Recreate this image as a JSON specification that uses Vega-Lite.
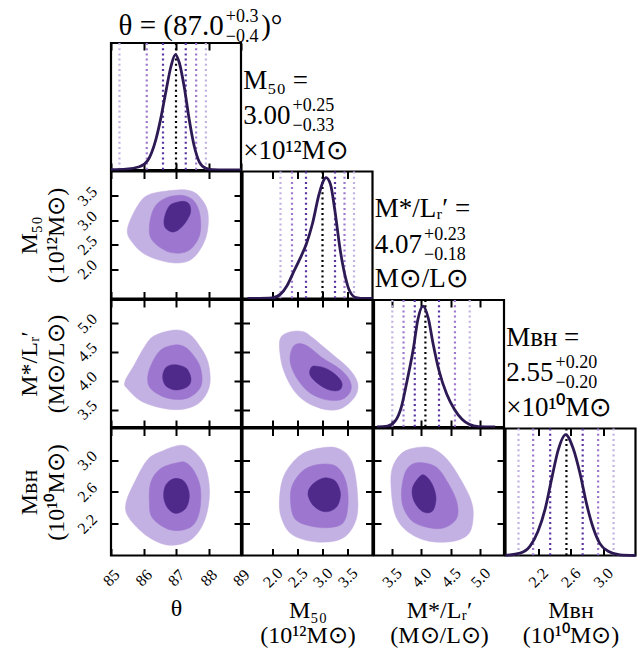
{
"$schema":"https://vega.github.io/schema/vega-lite/v6.json",
"padding":{"left":16,"top":7,"right":5,"bottom":5},
"background":"white",
"config":{
 "font":"Liberation Serif",
 "view":{"stroke":"black","strokeWidth":2.2},
 "axis":{"domain":false,"grid":false,"ticks":true,"tickColor":"black","tickWidth":2,"tickSize":-7,"labelFontSize":16,"labelColor":"black","labelAngle":-45,"labelAlign":"center","labelBaseline":"middle","labelOverlap":false,"labelFlush":false,"labelBound":false,"titleFontSize":24,"titleLineHeight":25,"titleFontWeight":"normal","titleColor":"black"},
 "axisBottom":{"labelPadding":29,"titlePadding":8},
 "axisLeft":{"labelPadding":31,"titlePadding":6,"titleLineHeight":27},
 "text":{"color":"black"}
},
"datasets":{
 "kde":[
  {"v":"theta","x":85.0,"d":0.004},{"v":"theta","x":85.46,"d":0.008},{"v":"theta","x":85.87,"d":0.028},{"v":"theta","x":86.13,"d":0.083},{"v":"theta","x":86.38,"d":0.264},{"v":"theta","x":86.54,"d":0.458},{"v":"theta","x":86.69,"d":0.681},{"v":"theta","x":86.85,"d":0.903},{"v":"theta","x":86.98,"d":1.0},{"v":"theta","x":87.1,"d":0.931},{"v":"theta","x":87.26,"d":0.708},{"v":"theta","x":87.41,"d":0.431},{"v":"theta","x":87.56,"d":0.208},{"v":"theta","x":87.72,"d":0.069},{"v":"theta","x":87.92,"d":0.014},{"v":"theta","x":88.13,"d":0.002},{"v":"theta","x":88.5,"d":0.0},{"v":"theta","x":89.0,"d":0.0},
  {"v":"m50","x":1.5,"d":0.0},{"v":"m50","x":2.0,"d":0.006},{"v":"m50","x":2.16,"d":0.036},{"v":"m50","x":2.29,"d":0.106},{"v":"m50","x":2.42,"d":0.218},{"v":"m50","x":2.55,"d":0.33},{"v":"m50","x":2.68,"d":0.455},{"v":"m50","x":2.8,"d":0.62},{"v":"m50","x":2.93,"d":0.86},{"v":"m50","x":3.02,"d":0.975},{"v":"m50","x":3.07,"d":1.0},{"v":"m50","x":3.16,"d":0.944},{"v":"m50","x":3.25,"d":0.72},{"v":"m50","x":3.35,"d":0.413},{"v":"m50","x":3.45,"d":0.19},{"v":"m50","x":3.54,"d":0.064},{"v":"m50","x":3.67,"d":0.008},{"v":"m50","x":3.85,"d":0.0},{"v":"m50","x":4.0,"d":0.0},
  {"v":"ml","x":3.25,"d":0.0},{"v":"ml","x":3.43,"d":0.008},{"v":"ml","x":3.56,"d":0.05},{"v":"ml","x":3.66,"d":0.16},{"v":"ml","x":3.76,"d":0.383},{"v":"ml","x":3.87,"d":0.66},{"v":"ml","x":3.94,"d":0.883},{"v":"ml","x":4.03,"d":1.0},{"v":"ml","x":4.12,"d":0.897},{"v":"ml","x":4.2,"d":0.689},{"v":"ml","x":4.3,"d":0.467},{"v":"ml","x":4.43,"d":0.272},{"v":"ml","x":4.56,"d":0.147},{"v":"ml","x":4.69,"d":0.064},{"v":"ml","x":4.81,"d":0.022},{"v":"ml","x":4.97,"d":0.003},{"v":"ml","x":5.25,"d":0.0},
  {"v":"bh","x":1.8,"d":0.002},{"v":"bh","x":1.98,"d":0.02},{"v":"bh","x":2.1,"d":0.075},{"v":"bh","x":2.2,"d":0.2},{"v":"bh","x":2.29,"d":0.39},{"v":"bh","x":2.37,"d":0.64},{"v":"bh","x":2.45,"d":0.876},{"v":"bh","x":2.54,"d":1.0},{"v":"bh","x":2.63,"d":0.89},{"v":"bh","x":2.72,"d":0.67},{"v":"bh","x":2.8,"d":0.42},{"v":"bh","x":2.88,"d":0.227},{"v":"bh","x":2.96,"d":0.1},{"v":"bh","x":3.07,"d":0.033},{"v":"bh","x":3.21,"d":0.005},{"v":"bh","x":3.4,"d":0.0}
 ],
 "lines":[
  {"v":"theta","x":85.26,"s":"3"},{"v":"theta","x":86.1,"s":"2"},{"v":"theta","x":86.6,"s":"1"},{"v":"theta","x":87.0,"s":"m"},{"v":"theta","x":87.3,"s":"1"},{"v":"theta","x":87.62,"s":"2"},{"v":"theta","x":87.92,"s":"3"},
  {"v":"m50","x":2.16,"s":"3"},{"v":"m50","x":2.39,"s":"2"},{"v":"m50","x":2.67,"s":"1"},{"v":"m50","x":3.0,"s":"m"},{"v":"m50","x":3.25,"s":"1"},{"v":"m50","x":3.44,"s":"2"},{"v":"m50","x":3.63,"s":"3"},
  {"v":"ml","x":3.51,"s":"3"},{"v":"ml","x":3.7,"s":"2"},{"v":"ml","x":3.89,"s":"1"},{"v":"ml","x":4.07,"s":"m"},{"v":"ml","x":4.3,"s":"1"},{"v":"ml","x":4.57,"s":"2"},{"v":"ml","x":4.82,"s":"3"},
  {"v":"bh","x":1.96,"s":"3"},{"v":"bh","x":2.14,"s":"2"},{"v":"bh","x":2.35,"s":"1"},{"v":"bh","x":2.55,"s":"m"},{"v":"bh","x":2.75,"s":"1"},{"v":"bh","x":2.94,"s":"2"},{"v":"bh","x":3.13,"s":"3"}
 ],
 "ann":[
  {"p":"theta","val":"θ = (87.0","sup":"+0.3","sub":"−0.4","unit":")°"},
  {"p":"m50","head":"M₅₀ =","val":"3.00","sup":"+0.25","sub":"−0.33","unit":"×10¹²M⊙"},
  {"p":"ml","head":"M*/Lᵣ′ =","val":"4.07","sup":"+0.23","sub":"−0.18","unit":"M⊙/L⊙"},
  {"p":"bh","head":"Mʙʜ =","val":"2.55","sup":"+0.20","sub":"−0.20","unit":"×10¹⁰M⊙"}
 ],
 "cont":[
  {"p":"t_m50","l":1,"i":0,"x":87.0,"y":3.62},{"p":"t_m50","l":1,"i":1,"x":86.18,"y":3.53},{"p":"t_m50","l":1,"i":2,"x":85.82,"y":3.3},{"p":"t_m50","l":1,"i":3,"x":85.51,"y":2.84},{"p":"t_m50","l":1,"i":4,"x":85.62,"y":2.58},{"p":"t_m50","l":1,"i":5,"x":86.08,"y":2.29},{"p":"t_m50","l":1,"i":6,"x":86.9,"y":2.13},{"p":"t_m50","l":1,"i":7,"x":87.51,"y":2.22},{"p":"t_m50","l":1,"i":8,"x":87.92,"y":2.65},{"p":"t_m50","l":1,"i":9,"x":87.98,"y":3.17},{"p":"t_m50","l":1,"i":10,"x":87.72,"y":3.49},{"p":"t_m50","l":1,"i":11,"x":87.41,"y":3.61},
  {"p":"t_m50","l":2,"i":0,"x":87.21,"y":3.51},{"p":"t_m50","l":2,"i":1,"x":86.69,"y":3.46},{"p":"t_m50","l":2,"i":2,"x":86.33,"y":3.26},{"p":"t_m50","l":2,"i":3,"x":86.18,"y":2.87},{"p":"t_m50","l":2,"i":4,"x":86.28,"y":2.58},{"p":"t_m50","l":2,"i":5,"x":86.79,"y":2.35},{"p":"t_m50","l":2,"i":6,"x":87.36,"y":2.37},{"p":"t_m50","l":2,"i":7,"x":87.72,"y":2.68},{"p":"t_m50","l":2,"i":8,"x":87.74,"y":3.1},{"p":"t_m50","l":2,"i":9,"x":87.56,"y":3.39},
  {"p":"t_m50","l":3,"i":0,"x":87.1,"y":3.38},{"p":"t_m50","l":3,"i":1,"x":86.8,"y":3.3},{"p":"t_m50","l":3,"i":2,"x":86.64,"y":3.04},{"p":"t_m50","l":3,"i":3,"x":86.67,"y":2.85},{"p":"t_m50","l":3,"i":4,"x":86.92,"y":2.76},{"p":"t_m50","l":3,"i":5,"x":87.2,"y":2.88},{"p":"t_m50","l":3,"i":6,"x":87.43,"y":3.12},{"p":"t_m50","l":3,"i":7,"x":87.43,"y":3.3},{"p":"t_m50","l":3,"i":8,"x":87.3,"y":3.38},
  {"p":"t_ml","l":1,"i":0,"x":86.95,"y":4.88},{"p":"t_ml","l":1,"i":1,"x":86.33,"y":4.78},{"p":"t_ml","l":1,"i":2,"x":86.03,"y":4.59},{"p":"t_ml","l":1,"i":3,"x":85.72,"y":4.28},{"p":"t_ml","l":1,"i":4,"x":85.43,"y":3.99},{"p":"t_ml","l":1,"i":5,"x":85.51,"y":3.86},{"p":"t_ml","l":1,"i":6,"x":86.03,"y":3.62},{"p":"t_ml","l":1,"i":7,"x":86.95,"y":3.5},{"p":"t_ml","l":1,"i":8,"x":87.67,"y":3.6},{"p":"t_ml","l":1,"i":9,"x":88.03,"y":3.91},{"p":"t_ml","l":1,"i":10,"x":87.98,"y":4.33},{"p":"t_ml","l":1,"i":11,"x":87.67,"y":4.65},{"p":"t_ml","l":1,"i":12,"x":87.36,"y":4.83},
  {"p":"t_ml","l":2,"i":0,"x":86.95,"y":4.62},{"p":"t_ml","l":2,"i":1,"x":86.54,"y":4.54},{"p":"t_ml","l":2,"i":2,"x":86.28,"y":4.33},{"p":"t_ml","l":2,"i":3,"x":86.13,"y":4.07},{"p":"t_ml","l":2,"i":4,"x":86.23,"y":3.86},{"p":"t_ml","l":2,"i":5,"x":86.74,"y":3.7},{"p":"t_ml","l":2,"i":6,"x":87.36,"y":3.7},{"p":"t_ml","l":2,"i":7,"x":87.77,"y":3.91},{"p":"t_ml","l":2,"i":8,"x":87.75,"y":4.23},{"p":"t_ml","l":2,"i":9,"x":87.51,"y":4.46},{"p":"t_ml","l":2,"i":10,"x":87.26,"y":4.59},
  {"p":"t_ml","l":3,"i":0,"x":86.95,"y":4.28},{"p":"t_ml","l":3,"i":1,"x":86.69,"y":4.23},{"p":"t_ml","l":3,"i":2,"x":86.59,"y":4.07},{"p":"t_ml","l":3,"i":3,"x":86.69,"y":3.91},{"p":"t_ml","l":3,"i":4,"x":87.0,"y":3.84},{"p":"t_ml","l":3,"i":5,"x":87.36,"y":3.9},{"p":"t_ml","l":3,"i":6,"x":87.46,"y":4.04},{"p":"t_ml","l":3,"i":7,"x":87.31,"y":4.22},
  {"p":"t_bh","l":1,"i":0,"x":87.15,"y":3.19},{"p":"t_bh","l":1,"i":1,"x":86.54,"y":3.11},{"p":"t_bh","l":1,"i":2,"x":86.13,"y":3.01},{"p":"t_bh","l":1,"i":3,"x":85.77,"y":2.76},{"p":"t_bh","l":1,"i":4,"x":85.46,"y":2.46},{"p":"t_bh","l":1,"i":5,"x":85.56,"y":2.27},{"p":"t_bh","l":1,"i":6,"x":86.13,"y":2.04},{"p":"t_bh","l":1,"i":7,"x":86.79,"y":1.93},{"p":"t_bh","l":1,"i":8,"x":87.46,"y":2.0},{"p":"t_bh","l":1,"i":9,"x":87.87,"y":2.23},{"p":"t_bh","l":1,"i":10,"x":88.03,"y":2.57},{"p":"t_bh","l":1,"i":11,"x":87.92,"y":2.9},{"p":"t_bh","l":1,"i":12,"x":87.56,"y":3.11},
  {"p":"t_bh","l":2,"i":0,"x":87.05,"y":2.97},{"p":"t_bh","l":2,"i":1,"x":86.54,"y":2.9},{"p":"t_bh","l":2,"i":2,"x":86.23,"y":2.73},{"p":"t_bh","l":2,"i":3,"x":86.18,"y":2.48},{"p":"t_bh","l":2,"i":4,"x":86.28,"y":2.27},{"p":"t_bh","l":2,"i":5,"x":86.85,"y":2.12},{"p":"t_bh","l":2,"i":6,"x":87.46,"y":2.16},{"p":"t_bh","l":2,"i":7,"x":87.72,"y":2.35},{"p":"t_bh","l":2,"i":8,"x":87.75,"y":2.65},{"p":"t_bh","l":2,"i":9,"x":87.56,"y":2.86},{"p":"t_bh","l":2,"i":10,"x":87.31,"y":2.97},
  {"p":"t_bh","l":3,"i":0,"x":86.95,"y":2.77},{"p":"t_bh","l":3,"i":1,"x":86.69,"y":2.69},{"p":"t_bh","l":3,"i":2,"x":86.62,"y":2.54},{"p":"t_bh","l":3,"i":3,"x":86.74,"y":2.4},{"p":"t_bh","l":3,"i":4,"x":87.0,"y":2.33},{"p":"t_bh","l":3,"i":5,"x":87.31,"y":2.4},{"p":"t_bh","l":3,"i":6,"x":87.41,"y":2.57},{"p":"t_bh","l":3,"i":7,"x":87.26,"y":2.73},
  {"p":"m50_ml","l":1,"i":0,"x":2.36,"y":4.85},{"p":"m50_ml","l":1,"i":1,"x":2.16,"y":4.74},{"p":"m50_ml","l":1,"i":2,"x":2.15,"y":4.47},{"p":"m50_ml","l":1,"i":3,"x":2.23,"y":4.16},{"p":"m50_ml","l":1,"i":4,"x":2.42,"y":3.84},{"p":"m50_ml","l":1,"i":5,"x":2.68,"y":3.63},{"p":"m50_ml","l":1,"i":6,"x":3.07,"y":3.5},{"p":"m50_ml","l":1,"i":7,"x":3.4,"y":3.53},{"p":"m50_ml","l":1,"i":8,"x":3.66,"y":3.74},{"p":"m50_ml","l":1,"i":9,"x":3.7,"y":3.97},{"p":"m50_ml","l":1,"i":10,"x":3.53,"y":4.21},{"p":"m50_ml","l":1,"i":11,"x":3.21,"y":4.45},{"p":"m50_ml","l":1,"i":12,"x":2.81,"y":4.74},{"p":"m50_ml","l":1,"i":13,"x":2.62,"y":4.85},
  {"p":"m50_ml","l":2,"i":0,"x":2.46,"y":4.63},{"p":"m50_ml","l":2,"i":1,"x":2.36,"y":4.47},{"p":"m50_ml","l":2,"i":2,"x":2.37,"y":4.26},{"p":"m50_ml","l":2,"i":3,"x":2.52,"y":4.0},{"p":"m50_ml","l":2,"i":4,"x":2.75,"y":3.79},{"p":"m50_ml","l":2,"i":5,"x":3.08,"y":3.67},{"p":"m50_ml","l":2,"i":6,"x":3.4,"y":3.68},{"p":"m50_ml","l":2,"i":7,"x":3.57,"y":3.84},{"p":"m50_ml","l":2,"i":8,"x":3.53,"y":4.03},{"p":"m50_ml","l":2,"i":9,"x":3.34,"y":4.21},{"p":"m50_ml","l":2,"i":10,"x":3.01,"y":4.39},{"p":"m50_ml","l":2,"i":11,"x":2.68,"y":4.61},
  {"p":"m50_ml","l":3,"i":0,"x":2.78,"y":4.24},{"p":"m50_ml","l":3,"i":1,"x":2.75,"y":4.1},{"p":"m50_ml","l":3,"i":2,"x":2.91,"y":3.95},{"p":"m50_ml","l":3,"i":3,"x":3.14,"y":3.84},{"p":"m50_ml","l":3,"i":4,"x":3.34,"y":3.84},{"p":"m50_ml","l":3,"i":5,"x":3.39,"y":3.96},{"p":"m50_ml","l":3,"i":6,"x":3.27,"y":4.1},{"p":"m50_ml","l":3,"i":7,"x":3.08,"y":4.21},{"p":"m50_ml","l":3,"i":8,"x":2.91,"y":4.25},
  {"p":"m50_bh","l":1,"i":0,"x":3.02,"y":3.16},{"p":"m50_bh","l":1,"i":1,"x":2.57,"y":3.07},{"p":"m50_bh","l":1,"i":2,"x":2.24,"y":2.82},{"p":"m50_bh","l":1,"i":3,"x":2.14,"y":2.52},{"p":"m50_bh","l":1,"i":4,"x":2.18,"y":2.27},{"p":"m50_bh","l":1,"i":5,"x":2.4,"y":2.06},{"p":"m50_bh","l":1,"i":6,"x":2.89,"y":1.97},{"p":"m50_bh","l":1,"i":7,"x":3.41,"y":2.02},{"p":"m50_bh","l":1,"i":8,"x":3.68,"y":2.27},{"p":"m50_bh","l":1,"i":9,"x":3.69,"y":2.65},{"p":"m50_bh","l":1,"i":10,"x":3.58,"y":2.99},{"p":"m50_bh","l":1,"i":11,"x":3.35,"y":3.14},
  {"p":"m50_bh","l":2,"i":0,"x":2.96,"y":2.95},{"p":"m50_bh","l":2,"i":1,"x":2.63,"y":2.88},{"p":"m50_bh","l":2,"i":2,"x":2.4,"y":2.69},{"p":"m50_bh","l":2,"i":3,"x":2.36,"y":2.48},{"p":"m50_bh","l":2,"i":4,"x":2.44,"y":2.27},{"p":"m50_bh","l":2,"i":5,"x":2.7,"y":2.18},{"p":"m50_bh","l":2,"i":6,"x":3.09,"y":2.15},{"p":"m50_bh","l":2,"i":7,"x":3.41,"y":2.21},{"p":"m50_bh","l":2,"i":8,"x":3.51,"y":2.44},{"p":"m50_bh","l":2,"i":9,"x":3.47,"y":2.73},{"p":"m50_bh","l":2,"i":10,"x":3.28,"y":2.92},
  {"p":"m50_bh","l":3,"i":0,"x":2.99,"y":2.77},{"p":"m50_bh","l":3,"i":1,"x":2.79,"y":2.69},{"p":"m50_bh","l":3,"i":2,"x":2.71,"y":2.57},{"p":"m50_bh","l":3,"i":3,"x":2.83,"y":2.42},{"p":"m50_bh","l":3,"i":4,"x":3.06,"y":2.35},{"p":"m50_bh","l":3,"i":5,"x":3.28,"y":2.41},{"p":"m50_bh","l":3,"i":6,"x":3.36,"y":2.57},{"p":"m50_bh","l":3,"i":7,"x":3.28,"y":2.72},{"p":"m50_bh","l":3,"i":8,"x":3.15,"y":2.77},
  {"p":"ml_bh","l":1,"i":0,"x":3.93,"y":3.16},{"p":"ml_bh","l":1,"i":1,"x":3.67,"y":3.09},{"p":"ml_bh","l":1,"i":2,"x":3.51,"y":2.9},{"p":"ml_bh","l":1,"i":3,"x":3.49,"y":2.65},{"p":"ml_bh","l":1,"i":4,"x":3.56,"y":2.31},{"p":"ml_bh","l":1,"i":5,"x":3.77,"y":2.1},{"p":"ml_bh","l":1,"i":6,"x":4.13,"y":1.98},{"p":"ml_bh","l":1,"i":7,"x":4.55,"y":1.98},{"p":"ml_bh","l":1,"i":8,"x":4.81,"y":2.08},{"p":"ml_bh","l":1,"i":9,"x":4.88,"y":2.31},{"p":"ml_bh","l":1,"i":10,"x":4.83,"y":2.52},{"p":"ml_bh","l":1,"i":11,"x":4.65,"y":2.78},{"p":"ml_bh","l":1,"i":12,"x":4.44,"y":3.01},{"p":"ml_bh","l":1,"i":13,"x":4.19,"y":3.15},
  {"p":"ml_bh","l":2,"i":0,"x":3.93,"y":2.97},{"p":"ml_bh","l":2,"i":1,"x":3.75,"y":2.88},{"p":"ml_bh","l":2,"i":2,"x":3.67,"y":2.65},{"p":"ml_bh","l":2,"i":3,"x":3.69,"y":2.42},{"p":"ml_bh","l":2,"i":4,"x":3.85,"y":2.23},{"p":"ml_bh","l":2,"i":5,"x":4.13,"y":2.15},{"p":"ml_bh","l":2,"i":6,"x":4.39,"y":2.15},{"p":"ml_bh","l":2,"i":7,"x":4.6,"y":2.27},{"p":"ml_bh","l":2,"i":8,"x":4.6,"y":2.48},{"p":"ml_bh","l":2,"i":9,"x":4.44,"y":2.73},{"p":"ml_bh","l":2,"i":10,"x":4.24,"y":2.92},
  {"p":"ml_bh","l":3,"i":0,"x":3.98,"y":2.8},{"p":"ml_bh","l":3,"i":1,"x":3.85,"y":2.65},{"p":"ml_bh","l":3,"i":2,"x":3.88,"y":2.48},{"p":"ml_bh","l":3,"i":3,"x":4.03,"y":2.35},{"p":"ml_bh","l":3,"i":4,"x":4.19,"y":2.36},{"p":"ml_bh","l":3,"i":5,"x":4.25,"y":2.52},{"p":"ml_bh","l":3,"i":6,"x":4.19,"y":2.69},{"p":"ml_bh","l":3,"i":7,"x":4.08,"y":2.8}
 ]
},
"columns":4,
"spacing":1.5,
"bounds":"flush",
"concat":[
 {"width":130,"height":127,
  "layer":[
   {"data":{"name":"lines"},"transform":[{"filter":"datum.v==='theta'"}],"mark":{"type":"rule","strokeDash":[2,3.2],"strokeWidth":2.2},
    "encoding":{"x":{"field":"x","type":"quantitative","scale":{"domain":[85,89]},"axis":{"orient":"bottom","values":[85,86,87,88,89],"labels":false,"title":null}},
     "color":{"field":"s","type":"nominal","scale":{"domain":["m","1","2","3"],"range":["#000000","#5a35a0","#9d77cf","#c4b1e3"]},"legend":null}}},
   {"data":{"name":"kde"},"transform":[{"filter":"datum.v==='theta'"}],"mark":{"type":"line","interpolate":"monotone","color":"#2d1a55","strokeWidth":2.8},
    "encoding":{"x":{"field":"x","type":"quantitative","axis":{"orient":"top","values":[85,86,87,88,89],"labels":false,"title":null}},"y":{"field":"d","type":"quantitative","scale":{"domain":[0,1.05]},"axis":null}}},
   {"data":{"name":"ann"},"transform":[{"filter":"datum.p==='theta'"}],"mark":{"type":"text","align":"right","baseline":"alphabetic","fontSize":29},
    "encoding":{"text":{"field":"val","type":"nominal"},"x":{"datum":88.47,"type":"quantitative","axis":null},"y":{"datum":1.166,"type":"quantitative","axis":null}}},
   {"data":{"name":"ann"},"transform":[{"filter":"datum.p==='theta'"}],"mark":{"type":"text","align":"left","baseline":"alphabetic","fontSize":18,"dy":-13},
    "encoding":{"text":{"field":"sup","type":"nominal"},"x":{"datum":88.53,"type":"quantitative","axis":null},"y":{"datum":1.166,"type":"quantitative","axis":null}}},
   {"data":{"name":"ann"},"transform":[{"filter":"datum.p==='theta'"}],"mark":{"type":"text","align":"left","baseline":"alphabetic","fontSize":18,"dy":7},
    "encoding":{"text":{"field":"sub","type":"nominal"},"x":{"datum":88.53,"type":"quantitative","axis":null},"y":{"datum":1.166,"type":"quantitative","axis":null}}},
   {"data":{"name":"ann"},"transform":[{"filter":"datum.p==='theta'"}],"mark":{"type":"text","align":"left","baseline":"alphabetic","fontSize":29},
    "encoding":{"text":{"field":"unit","type":"nominal"},"x":{"datum":89.62,"type":"quantitative","axis":null},"y":{"datum":1.166,"type":"quantitative","axis":null}}}
  ],
  "resolve":{"axis":{"x":"independent","y":"independent"}}},
 {"width":130,"height":127,"view":{"stroke":null},"data":{"name":"ann"},"transform":[{"filter":"datum.p==='m50'"}],
  "layer":[
   {"mark":{"type":"text","align":"left","baseline":"alphabetic","fontSize":27},"encoding":{"text":{"field":"head","type":"nominal"},"x":{"datum":0.005,"type":"quantitative","scale":{"domain":[0,1]},"axis":null},"y":{"datum":0.638,"type":"quantitative","scale":{"domain":[0,1]},"axis":null}}},
   {"mark":{"type":"text","align":"right","baseline":"alphabetic","fontSize":27},"encoding":{"text":{"field":"val","type":"nominal"},"x":{"datum":0.37,"type":"quantitative","axis":null},"y":{"datum":0.362,"type":"quantitative","axis":null}}},
   {"mark":{"type":"text","align":"left","baseline":"alphabetic","fontSize":18,"dy":-13},"encoding":{"text":{"field":"sup","type":"nominal"},"x":{"datum":0.385,"type":"quantitative","axis":null},"y":{"datum":0.362,"type":"quantitative","axis":null}}},
   {"mark":{"type":"text","align":"left","baseline":"alphabetic","fontSize":18,"dy":7},"encoding":{"text":{"field":"sub","type":"nominal"},"x":{"datum":0.385,"type":"quantitative","axis":null},"y":{"datum":0.362,"type":"quantitative","axis":null}}},
   {"mark":{"type":"text","align":"left","baseline":"alphabetic","fontSize":27},"encoding":{"text":{"field":"unit","type":"nominal"},"x":{"datum":0.005,"type":"quantitative","axis":null},"y":{"datum":0.087,"type":"quantitative","axis":null}}}
  ]},
 {"width":130,"height":127,"view":{"stroke":null},"data":{"values":[]},"mark":"point"},
 {"width":130,"height":127,"view":{"stroke":null},"data":{"values":[]},"mark":"point"},

 {"width":130,"height":127,"data":{"name":"cont"},"transform":[{"filter":"datum.p==='t_m50'"}],
  "layer":[
   {"transform":[{"filter":"datum.l===1"}],"mark":{"type":"line","interpolate":"cardinal-closed","fill":"#c4b1e3","stroke":"#c4b1e3","strokeWidth":0.5},
    "encoding":{"x":{"field":"x","type":"quantitative","scale":{"domain":[85,89]},"axis":{"orient":"bottom","values":[85,86,87,88,89],"labels":false,"title":null}},
     "y":{"field":"y","type":"quantitative","scale":{"domain":[1.5,4.0]},"axis":{"orient":"left","values":[2.0,2.5,3.0,3.5],"format":".1f","labelAngle":-45,"labelFontSize":16,"title":["M₅₀","(10¹²M⊙)"]}},"order":{"field":"i"}}},
   {"transform":[{"filter":"datum.l===2"}],"mark":{"type":"line","interpolate":"cardinal-closed","fill":"#9d77cf","stroke":"#9d77cf","strokeWidth":0.5},
    "encoding":{"x":{"field":"x","type":"quantitative","axis":{"orient":"top","values":[85,86,87,88,89],"labels":false,"title":null}},
     "y":{"field":"y","type":"quantitative","axis":{"orient":"right","values":[2.0,2.5,3.0,3.5],"labels":false,"title":null}},"order":{"field":"i"}}},
   {"transform":[{"filter":"datum.l===3"}],"mark":{"type":"line","interpolate":"cardinal-closed","fill":"#4f2a8a","stroke":"#4f2a8a","strokeWidth":0.5},
    "encoding":{"x":{"field":"x","type":"quantitative","axis":null},"y":{"field":"y","type":"quantitative","axis":null},"order":{"field":"i"}}}
  ],
  "resolve":{"axis":{"x":"independent","y":"independent"}}},
 {"width":130,"height":127,
  "layer":[
   {"data":{"name":"lines"},"transform":[{"filter":"datum.v==='m50'"}],"mark":{"type":"rule","strokeDash":[2,3.2],"strokeWidth":2.2},
    "encoding":{"x":{"field":"x","type":"quantitative","scale":{"domain":[1.5,4.0]},"axis":{"orient":"bottom","values":[2.0,2.5,3.0,3.5],"labels":false,"title":null}},
     "color":{"field":"s","type":"nominal","scale":{"domain":["m","1","2","3"],"range":["#000000","#5a35a0","#9d77cf","#c4b1e3"]},"legend":null}}},
   {"data":{"name":"kde"},"transform":[{"filter":"datum.v==='m50'"}],"mark":{"type":"line","interpolate":"monotone","color":"#2d1a55","strokeWidth":2.8},
    "encoding":{"x":{"field":"x","type":"quantitative","axis":{"orient":"top","values":[2.0,2.5,3.0,3.5],"labels":false,"title":null}},"y":{"field":"d","type":"quantitative","scale":{"domain":[0,1.05]},"axis":null}}}
  ],
  "resolve":{"axis":{"x":"independent","y":"independent"}}},
 {"width":130,"height":127,"view":{"stroke":null},"data":{"name":"ann"},"transform":[{"filter":"datum.p==='ml'"}],
  "layer":[
   {"mark":{"type":"text","align":"left","baseline":"alphabetic","fontSize":27},"encoding":{"text":{"field":"head","type":"nominal"},"x":{"datum":0.005,"type":"quantitative","scale":{"domain":[0,1]},"axis":null},"y":{"datum":0.638,"type":"quantitative","scale":{"domain":[0,1]},"axis":null}}},
   {"mark":{"type":"text","align":"right","baseline":"alphabetic","fontSize":27},"encoding":{"text":{"field":"val","type":"nominal"},"x":{"datum":0.37,"type":"quantitative","axis":null},"y":{"datum":0.362,"type":"quantitative","axis":null}}},
   {"mark":{"type":"text","align":"left","baseline":"alphabetic","fontSize":18,"dy":-13},"encoding":{"text":{"field":"sup","type":"nominal"},"x":{"datum":0.385,"type":"quantitative","axis":null},"y":{"datum":0.362,"type":"quantitative","axis":null}}},
   {"mark":{"type":"text","align":"left","baseline":"alphabetic","fontSize":18,"dy":7},"encoding":{"text":{"field":"sub","type":"nominal"},"x":{"datum":0.385,"type":"quantitative","axis":null},"y":{"datum":0.362,"type":"quantitative","axis":null}}},
   {"mark":{"type":"text","align":"left","baseline":"alphabetic","fontSize":27},"encoding":{"text":{"field":"unit","type":"nominal"},"x":{"datum":0.005,"type":"quantitative","axis":null},"y":{"datum":0.087,"type":"quantitative","axis":null}}}
  ]},
 {"width":130,"height":127,"view":{"stroke":null},"data":{"values":[]},"mark":"point"},

 {"width":130,"height":127,"data":{"name":"cont"},"transform":[{"filter":"datum.p==='t_ml'"}],
  "layer":[
   {"transform":[{"filter":"datum.l===1"}],"mark":{"type":"line","interpolate":"cardinal-closed","fill":"#c4b1e3","stroke":"#c4b1e3","strokeWidth":0.5},
    "encoding":{"x":{"field":"x","type":"quantitative","scale":{"domain":[85,89]},"axis":{"orient":"bottom","values":[85,86,87,88,89],"labels":false,"title":null}},
     "y":{"field":"y","type":"quantitative","scale":{"domain":[3.25,5.25]},"axis":{"orient":"left","values":[3.5,4.0,4.5,5.0],"format":".1f","labelAngle":-45,"labelFontSize":16,"title":["M*/Lᵣ′","(M⊙/L⊙)"]}},"order":{"field":"i"}}},
   {"transform":[{"filter":"datum.l===2"}],"mark":{"type":"line","interpolate":"cardinal-closed","fill":"#9d77cf","stroke":"#9d77cf","strokeWidth":0.5},
    "encoding":{"x":{"field":"x","type":"quantitative","axis":{"orient":"top","values":[85,86,87,88,89],"labels":false,"title":null}},
     "y":{"field":"y","type":"quantitative","axis":{"orient":"right","values":[3.5,4.0,4.5,5.0],"labels":false,"title":null}},"order":{"field":"i"}}},
   {"transform":[{"filter":"datum.l===3"}],"mark":{"type":"line","interpolate":"cardinal-closed","fill":"#4f2a8a","stroke":"#4f2a8a","strokeWidth":0.5},
    "encoding":{"x":{"field":"x","type":"quantitative","axis":null},"y":{"field":"y","type":"quantitative","axis":null},"order":{"field":"i"}}}
  ],
  "resolve":{"axis":{"x":"independent","y":"independent"}}},
 {"width":130,"height":127,"data":{"name":"cont"},"transform":[{"filter":"datum.p==='m50_ml'"}],
  "layer":[
   {"transform":[{"filter":"datum.l===1"}],"mark":{"type":"line","interpolate":"cardinal-closed","fill":"#c4b1e3","stroke":"#c4b1e3","strokeWidth":0.5},
    "encoding":{"x":{"field":"x","type":"quantitative","scale":{"domain":[1.5,4.0]},"axis":{"orient":"bottom","values":[2.0,2.5,3.0,3.5],"labels":false,"title":null}},
     "y":{"field":"y","type":"quantitative","scale":{"domain":[3.25,5.25]},"axis":{"orient":"left","values":[3.5,4.0,4.5,5.0],"labels":false,"title":null}},"order":{"field":"i"}}},
   {"transform":[{"filter":"datum.l===2"}],"mark":{"type":"line","interpolate":"cardinal-closed","fill":"#9d77cf","stroke":"#9d77cf","strokeWidth":0.5},
    "encoding":{"x":{"field":"x","type":"quantitative","axis":{"orient":"top","values":[2.0,2.5,3.0,3.5],"labels":false,"title":null}},
     "y":{"field":"y","type":"quantitative","axis":{"orient":"right","values":[3.5,4.0,4.5,5.0],"labels":false,"title":null}},"order":{"field":"i"}}},
   {"transform":[{"filter":"datum.l===3"}],"mark":{"type":"line","interpolate":"cardinal-closed","fill":"#4f2a8a","stroke":"#4f2a8a","strokeWidth":0.5},
    "encoding":{"x":{"field":"x","type":"quantitative","axis":null},"y":{"field":"y","type":"quantitative","axis":null},"order":{"field":"i"}}}
  ],
  "resolve":{"axis":{"x":"independent","y":"independent"}}},
 {"width":130,"height":127,
  "layer":[
   {"data":{"name":"lines"},"transform":[{"filter":"datum.v==='ml'"}],"mark":{"type":"rule","strokeDash":[2,3.2],"strokeWidth":2.2},
    "encoding":{"x":{"field":"x","type":"quantitative","scale":{"domain":[3.25,5.25]},"axis":{"orient":"bottom","values":[3.5,4.0,4.5,5.0],"labels":false,"title":null}},
     "color":{"field":"s","type":"nominal","scale":{"domain":["m","1","2","3"],"range":["#000000","#5a35a0","#9d77cf","#c4b1e3"]},"legend":null}}},
   {"data":{"name":"kde"},"transform":[{"filter":"datum.v==='ml'"}],"mark":{"type":"line","interpolate":"monotone","color":"#2d1a55","strokeWidth":2.8},
    "encoding":{"x":{"field":"x","type":"quantitative","axis":{"orient":"top","values":[3.5,4.0,4.5,5.0],"labels":false,"title":null}},"y":{"field":"d","type":"quantitative","scale":{"domain":[0,1.05]},"axis":null}}}
  ],
  "resolve":{"axis":{"x":"independent","y":"independent"}}},
 {"width":130,"height":127,"view":{"stroke":null},"data":{"name":"ann"},"transform":[{"filter":"datum.p==='bh'"}],
  "layer":[
   {"mark":{"type":"text","align":"left","baseline":"alphabetic","fontSize":27},"encoding":{"text":{"field":"head","type":"nominal"},"x":{"datum":0.005,"type":"quantitative","scale":{"domain":[0,1]},"axis":null},"y":{"datum":0.638,"type":"quantitative","scale":{"domain":[0,1]},"axis":null}}},
   {"mark":{"type":"text","align":"right","baseline":"alphabetic","fontSize":27},"encoding":{"text":{"field":"val","type":"nominal"},"x":{"datum":0.37,"type":"quantitative","axis":null},"y":{"datum":0.362,"type":"quantitative","axis":null}}},
   {"mark":{"type":"text","align":"left","baseline":"alphabetic","fontSize":18,"dy":-13},"encoding":{"text":{"field":"sup","type":"nominal"},"x":{"datum":0.385,"type":"quantitative","axis":null},"y":{"datum":0.362,"type":"quantitative","axis":null}}},
   {"mark":{"type":"text","align":"left","baseline":"alphabetic","fontSize":18,"dy":7},"encoding":{"text":{"field":"sub","type":"nominal"},"x":{"datum":0.385,"type":"quantitative","axis":null},"y":{"datum":0.362,"type":"quantitative","axis":null}}},
   {"mark":{"type":"text","align":"left","baseline":"alphabetic","fontSize":27},"encoding":{"text":{"field":"unit","type":"nominal"},"x":{"datum":0.005,"type":"quantitative","axis":null},"y":{"datum":0.087,"type":"quantitative","axis":null}}}
  ]},

 {"width":130,"height":127,"data":{"name":"cont"},"transform":[{"filter":"datum.p==='t_bh'"}],
  "layer":[
   {"transform":[{"filter":"datum.l===1"}],"mark":{"type":"line","interpolate":"cardinal-closed","fill":"#c4b1e3","stroke":"#c4b1e3","strokeWidth":0.5},
    "encoding":{"x":{"field":"x","type":"quantitative","scale":{"domain":[85,89]},"axis":{"orient":"bottom","values":[85,86,87,88,89],"format":"d","labelAngle":-45,"labelFontSize":16,"title":"θ"}},
     "y":{"field":"y","type":"quantitative","scale":{"domain":[1.8,3.4]},"axis":{"orient":"left","values":[2.2,2.6,3.0],"format":".1f","labelAngle":-45,"labelFontSize":16,"title":["Mʙʜ","(10¹⁰M⊙)"]}},"order":{"field":"i"}}},
   {"transform":[{"filter":"datum.l===2"}],"mark":{"type":"line","interpolate":"cardinal-closed","fill":"#9d77cf","stroke":"#9d77cf","strokeWidth":0.5},
    "encoding":{"x":{"field":"x","type":"quantitative","axis":{"orient":"top","values":[85,86,87,88,89],"labels":false,"title":null}},
     "y":{"field":"y","type":"quantitative","axis":{"orient":"right","values":[2.2,2.6,3.0],"labels":false,"title":null}},"order":{"field":"i"}}},
   {"transform":[{"filter":"datum.l===3"}],"mark":{"type":"line","interpolate":"cardinal-closed","fill":"#4f2a8a","stroke":"#4f2a8a","strokeWidth":0.5},
    "encoding":{"x":{"field":"x","type":"quantitative","axis":null},"y":{"field":"y","type":"quantitative","axis":null},"order":{"field":"i"}}}
  ],
  "resolve":{"axis":{"x":"independent","y":"independent"}}},
 {"width":130,"height":127,"data":{"name":"cont"},"transform":[{"filter":"datum.p==='m50_bh'"}],
  "layer":[
   {"transform":[{"filter":"datum.l===1"}],"mark":{"type":"line","interpolate":"cardinal-closed","fill":"#c4b1e3","stroke":"#c4b1e3","strokeWidth":0.5},
    "encoding":{"x":{"field":"x","type":"quantitative","scale":{"domain":[1.5,4.0]},"axis":{"orient":"bottom","values":[2.0,2.5,3.0,3.5],"format":".1f","labelAngle":-45,"labelFontSize":16,"title":["M₅₀","(10¹²M⊙)"]}},
     "y":{"field":"y","type":"quantitative","scale":{"domain":[1.8,3.4]},"axis":{"orient":"left","values":[2.2,2.6,3.0],"labels":false,"title":null}},"order":{"field":"i"}}},
   {"transform":[{"filter":"datum.l===2"}],"mark":{"type":"line","interpolate":"cardinal-closed","fill":"#9d77cf","stroke":"#9d77cf","strokeWidth":0.5},
    "encoding":{"x":{"field":"x","type":"quantitative","axis":{"orient":"top","values":[2.0,2.5,3.0,3.5],"labels":false,"title":null}},
     "y":{"field":"y","type":"quantitative","axis":{"orient":"right","values":[2.2,2.6,3.0],"labels":false,"title":null}},"order":{"field":"i"}}},
   {"transform":[{"filter":"datum.l===3"}],"mark":{"type":"line","interpolate":"cardinal-closed","fill":"#4f2a8a","stroke":"#4f2a8a","strokeWidth":0.5},
    "encoding":{"x":{"field":"x","type":"quantitative","axis":null},"y":{"field":"y","type":"quantitative","axis":null},"order":{"field":"i"}}}
  ],
  "resolve":{"axis":{"x":"independent","y":"independent"}}},
 {"width":130,"height":127,"data":{"name":"cont"},"transform":[{"filter":"datum.p==='ml_bh'"}],
  "layer":[
   {"transform":[{"filter":"datum.l===1"}],"mark":{"type":"line","interpolate":"cardinal-closed","fill":"#c4b1e3","stroke":"#c4b1e3","strokeWidth":0.5},
    "encoding":{"x":{"field":"x","type":"quantitative","scale":{"domain":[3.25,5.25]},"axis":{"orient":"bottom","values":[3.5,4.0,4.5,5.0],"format":".1f","labelAngle":-45,"labelFontSize":16,"title":["M*/Lᵣ′","(M⊙/L⊙)"]}},
     "y":{"field":"y","type":"quantitative","scale":{"domain":[1.8,3.4]},"axis":{"orient":"left","values":[2.2,2.6,3.0],"labels":false,"title":null}},"order":{"field":"i"}}},
   {"transform":[{"filter":"datum.l===2"}],"mark":{"type":"line","interpolate":"cardinal-closed","fill":"#9d77cf","stroke":"#9d77cf","strokeWidth":0.5},
    "encoding":{"x":{"field":"x","type":"quantitative","axis":{"orient":"top","values":[3.5,4.0,4.5,5.0],"labels":false,"title":null}},
     "y":{"field":"y","type":"quantitative","axis":{"orient":"right","values":[2.2,2.6,3.0],"labels":false,"title":null}},"order":{"field":"i"}}},
   {"transform":[{"filter":"datum.l===3"}],"mark":{"type":"line","interpolate":"cardinal-closed","fill":"#4f2a8a","stroke":"#4f2a8a","strokeWidth":0.5},
    "encoding":{"x":{"field":"x","type":"quantitative","axis":null},"y":{"field":"y","type":"quantitative","axis":null},"order":{"field":"i"}}}
  ],
  "resolve":{"axis":{"x":"independent","y":"independent"}}},
 {"width":130,"height":127,
  "layer":[
   {"data":{"name":"lines"},"transform":[{"filter":"datum.v==='bh'"}],"mark":{"type":"rule","strokeDash":[2,3.2],"strokeWidth":2.2},
    "encoding":{"x":{"field":"x","type":"quantitative","scale":{"domain":[1.8,3.4]},"axis":{"orient":"bottom","values":[2.2,2.6,3.0],"format":".1f","labelAngle":-45,"labelFontSize":16,"title":["Mʙʜ","(10¹⁰M⊙)"]}},
     "color":{"field":"s","type":"nominal","scale":{"domain":["m","1","2","3"],"range":["#000000","#5a35a0","#9d77cf","#c4b1e3"]},"legend":null}}},
   {"data":{"name":"kde"},"transform":[{"filter":"datum.v==='bh'"}],"mark":{"type":"line","interpolate":"monotone","color":"#2d1a55","strokeWidth":2.8},
    "encoding":{"x":{"field":"x","type":"quantitative","axis":{"orient":"top","values":[2.2,2.6,3.0],"labels":false,"title":null}},"y":{"field":"d","type":"quantitative","scale":{"domain":[0,1.05]},"axis":null}}}
  ],
  "resolve":{"axis":{"x":"independent","y":"independent"}}}
]
}
